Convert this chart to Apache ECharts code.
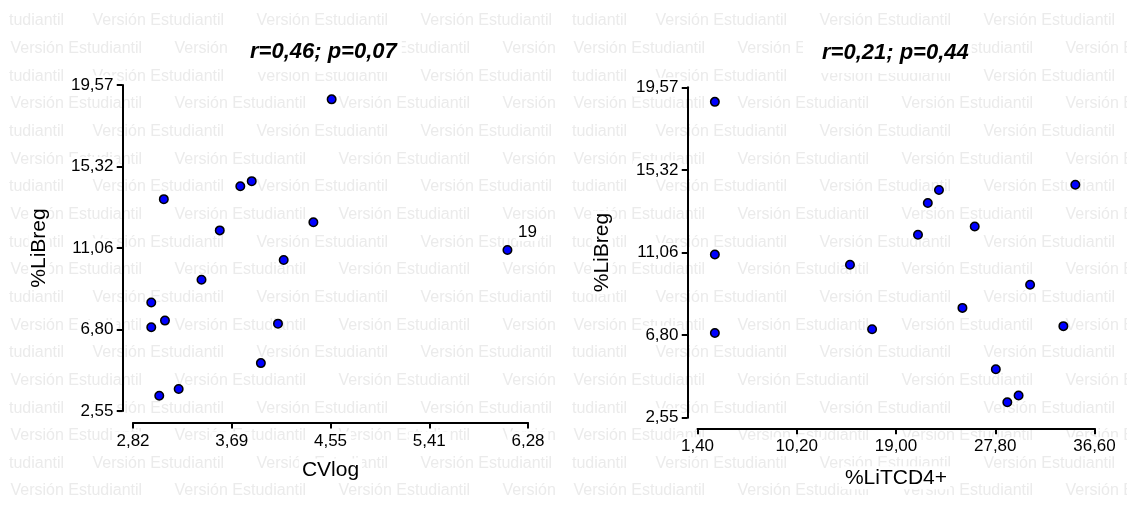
<!DOCTYPE html>
<html>
<head>
<meta charset="utf-8">
<script src="https://cdn.jsdelivr.net/npm/echarts@6/dist/echarts.min.js"></script>
<style>
html,body{margin:0;padding:0;background:#fff;}
#chart{width:1127px;height:505px;}
</style>
</head>
<body>
<div id="chart"></div>
<script>
// ---- data ----
const cvlog  = [4.56, 3.86, 3.76, 3.09, 4.40, 3.58, 6.10, 4.14, 3.42, 2.98, 3.10, 4.09, 2.98, 3.94, 3.22, 3.05];
const litcd4 = [2.94, 34.90, 22.81, 21.82, 25.98, 20.95, 2.94, 14.92, 30.89, 24.89, 33.84, 16.88, 2.94, 27.85, 29.87, 28.87];
const libreg = [18.82, 14.55, 14.28, 13.61, 12.40, 11.98, 10.96, 10.43, 9.40, 8.21, 7.27, 7.11, 6.92, 5.05, 3.70, 3.35];
const pointLabelsLeft = ['', '', '', '', '', '', '19', '', '', '', '', '', '', '', '', ''];

const yTicks = [2.55, 6.805, 11.06, 15.315, 19.57];
const yTickLabels = ['2,55', '6,80', '11,06', '15,32', '19,57'];
const leftXTicks = [2.82, 3.685, 4.55, 5.415, 6.28];
const leftXTickLabels = ['2,82', '3,69', '4,55', '5,41', '6,28'];
const rightXTicks = [1.40, 10.20, 19.00, 27.80, 36.60];
const rightXTickLabels = ['1,40', '10,20', '19,00', '27,80', '36,60'];

const titles = ['r=0,46; p=0,07', 'r=0,21; p=0,44'];
const xNames = ['CVlog', '%LiTCD4+'];
const yName = '%LiBreg';
const watermarkText = 'Versión Estudiantil';
const watermarkTail = 'tudiantil';

// ---- helpers ----
const FONT = '"Liberation Sans", Arial, sans-serif';
function labelFor(ticks, labels) {
  return function (v) {
    for (let i = 0; i < ticks.length; i++) {
      if (Math.abs(ticks[i] - v) < 1e-6) return labels[i];
    }
    return '';
  };
}

// watermark (layout only)
const graphics = [];
const WM_COLOR = '#ebebeb';
function addWatermark(offsetX, clipRight, z) {
  for (let i = 0; i < 18; i++) {
    const y = 21 + 27.65 * i;
    const starts = [];
    if (i % 2 === 0) {
      graphics.push({type: 'text', x: offsetX + 9, y: y, z: z, silent: true,
        style: {text: watermarkTail, font: '16px ' + FONT, fill: WM_COLOR, verticalAlign: 'middle'}});
      for (let x = offsetX + 92.5; x < clipRight; x += 164) starts.push(x);
    } else {
      for (let x = offsetX + 10.5; x < clipRight; x += 164) starts.push(x);
    }
    starts.forEach(function (x) {
      graphics.push({type: 'text', x: x, y: y, z: z, silent: true,
        style: {text: watermarkText, font: '16px ' + FONT, fill: WM_COLOR, verticalAlign: 'middle'}});
    });
  }
}
addWatermark(0, 559, 0);
graphics.push({type: 'rect', z: 1, silent: true, shape: {x: 559, y: 0, width: 600, height: 505}, style: {fill: '#fff'}});
addWatermark(563, 1127, 2);

function xAxisOpt(gridIndex, min, max, ticks, labels, name, offset, nameGap) {
  return {
    type: 'value', gridIndex: gridIndex, min: min, max: max, offset: offset, z: 5,
    name: name, nameLocation: 'middle', nameGap: nameGap,
    nameTextStyle: {fontFamily: FONT, fontSize: 21, color: '#000', backgroundColor: '#fff', padding: [1, 3]},
    axisLine: {show: true, onZero: false, lineStyle: {color: '#000', width: 2}},
    axisTick: {show: true, length: 6, lineStyle: {color: '#000', width: 2}, customValues: ticks},
    axisLabel: {show: true, customValues: ticks, formatter: labelFor(ticks, labels), margin: 9,
      fontFamily: FONT, fontSize: 17, color: '#000', backgroundColor: '#fff', padding: [1, 4]},
    splitLine: {show: false}
  };
}
function yAxisOpt(gridIndex, offset, nameGap) {
  return {
    type: 'value', gridIndex: gridIndex, min: yTicks[0], max: yTicks[yTicks.length - 1], offset: offset, z: 5,
    name: yName, nameLocation: 'middle', nameGap: nameGap,
    nameTextStyle: {fontFamily: FONT, fontSize: 21, color: '#000', backgroundColor: '#fff', padding: [0, 2]},
    axisLine: {show: true, onZero: false, lineStyle: {color: '#000', width: 2}},
    axisTick: {show: true, length: 6, lineStyle: {color: '#000', width: 2}, customValues: yTicks},
    axisLabel: {show: true, customValues: yTicks, formatter: labelFor(yTicks, yTickLabels), margin: 6,
      fontFamily: FONT, fontSize: 17, color: '#000', backgroundColor: '#fff', padding: [1, 3]},
    splitLine: {show: false}
  };
}

const leftData = cvlog.map(function (x, i) { return [x, libreg[i]]; });
const rightData = litcd4.map(function (x, i) { return [x, libreg[i]]; });

const symbolStyle = {color: '#0000ff', borderColor: '#000', borderWidth: 1.5, opacity: 1};

const option = {
  backgroundColor: '#fff',
  animation: false,
  title: [
    {text: titles[0], left: 233, top: 32, padding: [9, 5, 9, 17], backgroundColor: '#fff', z: 12,
      textStyle: {fontFamily: FONT, fontSize: 22, fontWeight: 'bold', fontStyle: 'italic', color: '#000'}},
    {text: titles[1], left: 803, top: 33, padding: [9, 3, 9, 19], backgroundColor: '#fff', z: 12,
      textStyle: {fontFamily: FONT, fontSize: 22, fontWeight: 'bold', fontStyle: 'italic', color: '#000'}}
  ],
  graphic: {elements: graphics},
  grid: [
    {left: 133, top: 85, width: 395, height: 326, containLabel: false, outerBoundsMode: 'none'},
    {left: 697.5, top: 87.3, width: 397, height: 330.5, containLabel: false, outerBoundsMode: 'none'}
  ],
  xAxis: [
    xAxisOpt(0, leftXTicks[0], leftXTicks[4], leftXTicks, leftXTickLabels, xNames[0], 11.5, 36),
    xAxisOpt(1, rightXTicks[0], rightXTicks[4], rightXTicks, rightXTickLabels, xNames[1], 10.5, 38)
  ],
  yAxis: [
    yAxisOpt(0, 10.5, 73),
    yAxisOpt(1, 10, 75)
  ],
  series: [
    {type: 'scatter', xAxisIndex: 0, yAxisIndex: 0, data: leftData, symbol: 'circle', symbolSize: 8.5, z: 10,
      itemStyle: symbolStyle,
      label: {show: true, position: 'top', offset: [20, 1], distance: 5,
        formatter: function (p) { return pointLabelsLeft[p.dataIndex]; },
        fontFamily: FONT, fontSize: 17, color: '#000', backgroundColor: '#fff', padding: [0, 2]},
      emphasis: {disabled: true}},
    {type: 'scatter', xAxisIndex: 1, yAxisIndex: 1, data: rightData, symbol: 'circle', symbolSize: 8.5, z: 10,
      itemStyle: symbolStyle, emphasis: {disabled: true}}
  ]
};

const chart = echarts.init(document.getElementById('chart'), null, {renderer: 'canvas'});
chart.setOption(option);
</script>
</body>
</html>
